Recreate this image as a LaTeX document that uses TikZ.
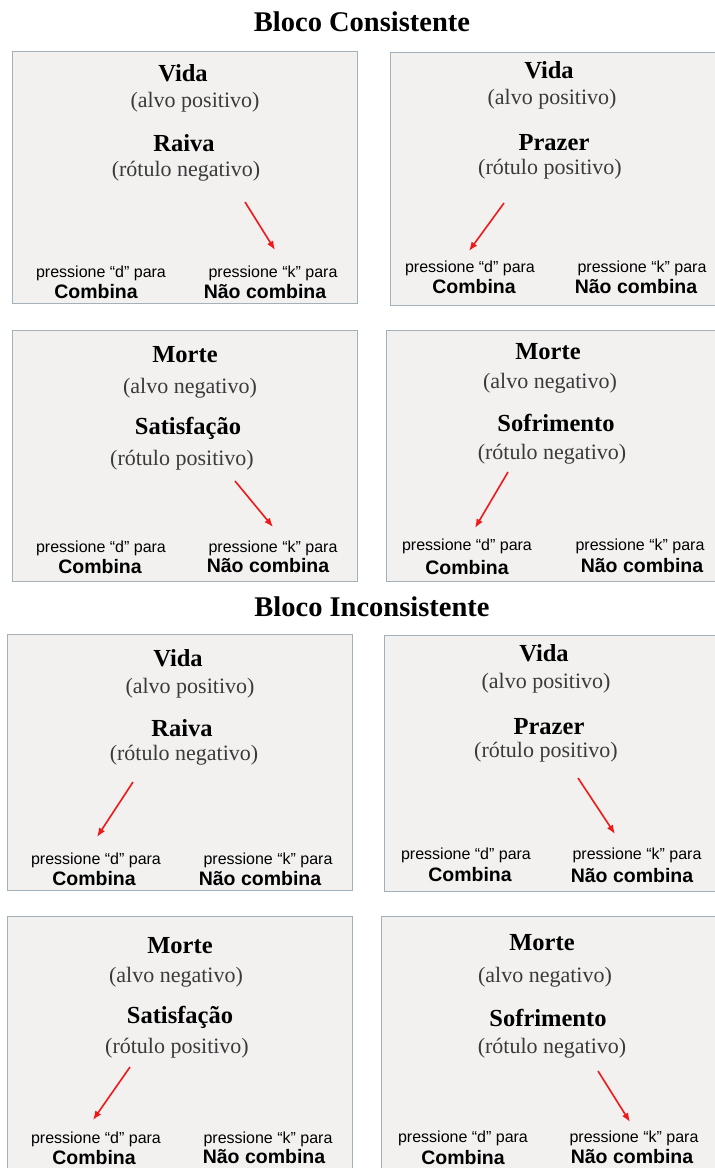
\documentclass[tikz,border=0pt]{standalone}
\usepackage{fontspec}
\setmainfont{Liberation Serif}
\setsansfont{Liberation Sans}
\usetikzlibrary{arrows.meta}
\definecolor{boxc}{HTML}{A3B1BD}
\definecolor{boxf}{HTML}{F2F1F0}
\definecolor{subc}{HTML}{3A3A3A}
\definecolor{arrc}{HTML}{F01818}
\tikzset{
  panel/.style={draw=boxc, fill=boxf, line width=1.3pt, anchor=north west, inner sep=0pt},
  ttl/.style={font=\fontsize{28.5}{31}\selectfont\bfseries, inner sep=0pt},
  word/.style={font=\fontsize{24.5}{27}\selectfont\bfseries, text=black, inner sep=0pt},
  sub/.style={font=\fontsize{22}{25}\selectfont, text=subc, inner sep=0pt},
  press/.style={font=\sffamily\fontsize{16}{18}\selectfont, inner sep=0pt},
  resp/.style={font=\sffamily\bfseries\fontsize{19.5}{21}\selectfont, inner sep=0pt},
  redarrow/.style={draw=arrc, line width=1.6pt, -{Latex[length=9pt,width=7pt]}}
}
\begin{document}
\begin{tikzpicture}[x=1pt,y=-1pt]
\useasboundingbox (0,0) rectangle (715,1168);
\fill[white] (0,0) rectangle (715,1168);
\begin{scope}
\clip (0,0) rectangle (715,1168);
% titles
\node[ttl] (t1) at (362,22) {Bloco Consistente};
\node[ttl] (t2) at (372,607) {Bloco Inconsistente};
% panels
\node[panel, minimum width=345pt, minimum height=252pt] (p1) at (12,51) {};
\node[panel, minimum width=340pt, minimum height=253pt] (p2) at (390,52) {};
\node[panel, minimum width=345pt, minimum height=251pt] (p3) at (12,330) {};
\node[panel, minimum width=340pt, minimum height=251pt] (p4) at (386,330) {};
\node[panel, minimum width=345pt, minimum height=256pt] (p5) at (7,634) {};
\node[panel, minimum width=340pt, minimum height=256pt] (p6) at (384,635) {};
\node[panel, minimum width=345pt, minimum height=270pt] (p7) at (7,916) {};
\node[panel, minimum width=340pt, minimum height=270pt] (p8) at (381,916) {};

% panel 1
\node[word] (w1) at (183,73) {Vida};
\node[sub] (s1) at (195,102) {(alvo positivo)};
\node[word] (w1b) at (184,143) {Raiva};
\node[sub] (s1b) at (186,171) {(rótulo negativo)};
\node[press] (d1) at (101,273) {pressione “d” para};
\node[resp] (c1) at (96,292) {Combina};
\node[press] (k1) at (273,273) {pressione “k” para};
\node[resp] (n1) at (265,292) {Não combina};
\coordinate (a1s) at (245,202); \coordinate (a1e) at (275,250);
\draw[redarrow] (a1s) -- (a1e);

% panel 2
\node[word] (w2) at (549,70) {Vida};
\node[sub] (s2) at (552,99) {(alvo positivo)};
\node[word] (w2b) at (554,143) {Prazer};
\node[sub] (s2b) at (550,169) {(rótulo positivo)};
\node[press] (d2) at (470,268) {pressione “d” para};
\node[resp] (c2) at (474,287) {Combina};
\node[press] (k2) at (642,268) {pressione “k” para};
\node[resp] (n2) at (636,287) {Não combina};
\coordinate (a2s) at (504,203); \coordinate (a2e) at (469,251);
\draw[redarrow] (a2s) -- (a2e);

% panel 3
\node[word] (w3) at (185,355) {Morte};
\node[sub] (s3) at (190,388) {(alvo negativo)};
\node[word] (w3b) at (188,428) {Satisfação};
\node[sub] (s3b) at (182,460) {(rótulo positivo)};
\node[press] (d3) at (101,548) {pressione “d” para};
\node[resp] (c3) at (100,567) {Combina};
\node[press] (k3) at (273,548) {pressione “k” para};
\node[resp] (n3) at (268,566) {Não combina};
\coordinate (a3s) at (235,481); \coordinate (a3e) at (273,527);
\draw[redarrow] (a3s) -- (a3e);

% panel 4
\node[word] (w4) at (548,352) {Morte};
\node[sub] (s4) at (550,383) {(alvo negativo)};
\node[word] (w4b) at (556,423) {Sofrimento};
\node[sub] (s4b) at (552,454) {(rótulo negativo)};
\node[press] (d4) at (467,546) {pressione “d” para};
\node[resp] (c4) at (467,568) {Combina};
\node[press] (k4) at (640,546) {pressione “k” para};
\node[resp] (n4) at (642,566) {Não combina};
\coordinate (a4s) at (508,472); \coordinate (a4e) at (475,528);
\draw[redarrow] (a4s) -- (a4e);

% panel 5
\node[word] (w5) at (178,658) {Vida};
\node[sub] (s5) at (190,688) {(alvo positivo)};
\node[word] (w5b) at (182,728) {Raiva};
\node[sub] (s5b) at (184,755) {(rótulo negativo)};
\node[press] (d5) at (96,860) {pressione “d” para};
\node[resp] (c5) at (94,879) {Combina};
\node[press] (k5) at (268,860) {pressione “k” para};
\node[resp] (n5) at (260,879) {Não combina};
\coordinate (a5s) at (133,782); \coordinate (a5e) at (97,837);
\draw[redarrow] (a5s) -- (a5e);

% panel 6
\node[word] (w6) at (544,653) {Vida};
\node[sub] (s6) at (546,683) {(alvo positivo)};
\node[word] (w6b) at (549,727) {Prazer};
\node[sub] (s6b) at (546,752) {(rótulo positivo)};
\node[press] (d6) at (466,855) {pressione “d” para};
\node[resp] (c6) at (470,875) {Combina};
\node[press] (k6) at (637,855) {pressione “k” para};
\node[resp] (n6) at (632,876) {Não combina};
\coordinate (a6s) at (578,778); \coordinate (a6e) at (615,834);
\draw[redarrow] (a6s) -- (a6e);

% panel 7
\node[word] (w7) at (180,946) {Morte};
\node[sub] (s7) at (176,977) {(alvo negativo)};
\node[word] (w7b) at (180,1017) {Satisfação};
\node[sub] (s7b) at (177,1048) {(rótulo positivo)};
\node[press] (d7) at (96,1139) {pressione “d” para};
\node[resp] (c7) at (94,1158) {Combina};
\node[press] (k7) at (268,1139) {pressione “k” para};
\node[resp] (n7) at (264,1157) {Não combina};
\coordinate (a7s) at (130,1067); \coordinate (a7e) at (93,1120);
\draw[redarrow] (a7s) -- (a7e);

% panel 8
\node[word] (w8) at (542,943) {Morte};
\node[sub] (s8) at (545,977) {(alvo negativo)};
\node[word] (w8b) at (548,1018) {Sofrimento};
\node[sub] (s8b) at (552,1048) {(rótulo negativo)};
\node[press] (d8) at (463,1138) {pressione “d” para};
\node[resp] (c8) at (463,1158) {Combina};
\node[press] (k8) at (634,1138) {pressione “k” para};
\node[resp] (n8) at (632,1157) {Não combina};
\coordinate (a8s) at (598,1071); \coordinate (a8e) at (630,1122);
\draw[redarrow] (a8s) -- (a8e);
\end{scope}
\end{tikzpicture}
\end{document}
